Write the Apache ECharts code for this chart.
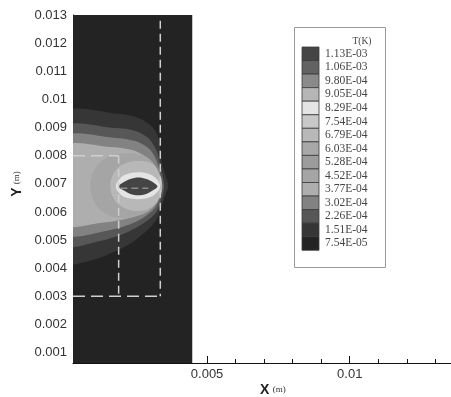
<!DOCTYPE html>
<html>
<head>
<meta charset="utf-8">
<script src="https://cdn.jsdelivr.net/npm/echarts@6/dist/echarts.min.js"></script>
<style>html,body{margin:0;padding:0;background:#fff}#c{width:451px;height:397px}</style>
</head>
<body>
<div id="c"></div>
<script>
// ---- axis ranges and tick labels ----
const xRange = [0.0003, 0.01355];
const yRange = [0.00063, 0.013];
const xTickLabels = [0.005, 0.01];
const yTickLabels = [0.001,0.002,0.003,0.004,0.005,0.006,0.007,0.008,0.009,0.01,0.011,0.012,0.013];
const xMinorStep = 0.001;
const yMinorStep = 0.0002;

// ---- contour levels (legend) ----
const levelLabels = ['1.13E-03','1.06E-03','9.80E-04','9.05E-04','8.29E-04','7.54E-04','6.79E-04','6.03E-04','5.28E-04','4.52E-04','3.77E-04','3.02E-04','2.26E-04','1.51E-04','7.54E-05'];
const levelColors = ['#454545','#626262','#8a8a8a','#b6b6b6','#e4e4e4','#c8c8c8','#b8b8b8','#a8a8a8','#9c9c9c','#a5a5a5','#aeaeae','#828282','#575757','#363636','#232323'];

// ---- contour regions (data coordinates, metres) ----
const domainRegion = [[0,0.0005],[0.00448,0.0005],[0.00448,0.013],[0,0.013]];
const band151 = [[0,0.00948],[0.00196,0.00948],[0.00259,0.00934],[0.00301,0.00909],[0.00326,0.00874],[0.00336,0.00827],[0.00343,0.00767],[0.00357,0.00721],[0.00364,0.00692],[0.00354,0.00660],[0.00340,0.00618],[0.00322,0.00571],[0.00284,0.00529],[0.00224,0.00483],[0.00143,0.00444],[0.00073,0.00422],[0,0.00419]];
const band226 = [[0,0.00898],[0.00179,0.00898],[0.00249,0.00888],[0.00294,0.00863],[0.00322,0.00820],[0.00336,0.00767],[0.00347,0.00714],[0.00350,0.00685],[0.00340,0.00643],[0.00322,0.00600],[0.00284,0.00564],[0.00214,0.00525],[0.00126,0.00497],[0,0.00486]];
const band302 = [[0,0.00863],[0.00179,0.00863],[0.00249,0.00852],[0.00294,0.00827],[0.00319,0.00792],[0.00333,0.00749],[0.00343,0.00692],[0.00333,0.00643],[0.00308,0.00604],[0.00249,0.00564],[0.00161,0.00536],[0,0.00525]];
const band377 = [[0,0.00831],[0.00161,0.00831],[0.00238,0.00820],[0.00287,0.00795],[0.00315,0.00760],[0.00336,0.00696],[0.00322,0.00636],[0.00287,0.00600],[0.00214,0.00575],[0.00126,0.00561],[0,0.00557]];
const band452 = [[0.00091,0.00692],[0.00105,0.00749],[0.00140,0.00788],[0.00196,0.00806],[0.00266,0.00803],[0.00308,0.00778],[0.00329,0.00731],[0.00336,0.00692],[0.00329,0.00653],[0.00308,0.00614],[0.00266,0.00589],[0.00196,0.00579],[0.00140,0.00596],[0.00105,0.00636]];
const band679 = [[0.00161,0.00692],[0.00175,0.00742],[0.00210,0.00771],[0.00259,0.00781],[0.00308,0.00771],[0.00333,0.00735],[0.00343,0.00692],[0.00333,0.00650],[0.00308,0.00618],[0.00259,0.00603],[0.00210,0.00614],[0.00175,0.00643]];
const band829 = [[0.00180,0.00691],[0.00193,0.00717],[0.00215,0.00733],[0.00258,0.00741],[0.00299,0.00734],[0.00323,0.00717],[0.00336,0.00691],[0.00323,0.00668],[0.00299,0.00652],[0.00258,0.00645],[0.00215,0.00651],[0.00193,0.00666]];
const band113 = [[0.00189,0.00690],[0.00210,0.00707],[0.00231,0.00717],[0.00259,0.00722],[0.00287,0.00717],[0.00308,0.00707],[0.00326,0.00690],[0.00308,0.00675],[0.00287,0.00664],[0.00259,0.00659],[0.00231,0.00664],[0.00210,0.00675]];

// ---- dashed outline lines ----
const dashOuterV = [[0.00336,0.0128],[0.00336,0.003]];
const dashInnerV = [[0.0019,0.008],[0.0019,0.003]];
const dashTopH = [[0.0003,0.008],[0.0019,0.008]];
const dashBottomH = [[0.0003,0.003],[0.00336,0.003]];
const dashCenter = [[0.00196,0.00684],[0.00294,0.00684]];

const regions = [
  {pts: domainRegion, level: 14, smooth: 0},
  {pts: band151, level: 13, smooth: 0.3},
  {pts: band226, level: 12, smooth: 0.3},
  {pts: band302, level: 11, smooth: 0.3},
  {pts: band377, level: 10, smooth: 0.3},
  {pts: band452, level: 9, smooth: 0.4},
  {pts: band679, level: 6, smooth: 0.4},
  {pts: band829, level: 4, smooth: 0.4},
  {pts: band113, level: 0, smooth: 0.3}
];

function steps(lo, hi, step) {
  const out = [];
  for (let k = Math.ceil(lo / step - 1e-9); k * step <= hi + 1e-12; k++) out.push(+(k * step).toFixed(6));
  return out;
}
const xMinorTicks = steps(xRange[0], xRange[1], xMinorStep);
const yMinorTicks = steps(yRange[0], yRange[1], yMinorStep);

const chart = echarts.init(document.getElementById('c'), null, {renderer: 'canvas'});
const fmt = v => String(Math.round(v * 1e6) / 1e6);

const series = regions.map(r => ({
  type: 'custom', coordinateSystem: 'cartesian2d', xAxisIndex: 0, yAxisIndex: 0,
  clip: true, silent: true, z: 1,
  data: [[0.001, 0.001]],
  renderItem: (params, api) => ({
    type: 'polygon',
    shape: {points: r.pts.map(p => api.coord(p)), smooth: r.smooth},
    style: {fill: levelColors[r.level], stroke: null}
  })
}));
[dashOuterV, dashInnerV, dashTopH, dashBottomH].forEach((d, i) => series.push({
  type: 'line', data: d, symbol: 'none', silent: true, z: 3, clip: true,
  lineStyle: {color: '#cfcfcf', width: 1.5, type: i < 2 ? [8, 5] : [12, 6]}
}));
series.push({type: 'line', data: dashCenter, symbol: 'none', silent: true, z: 3,
  lineStyle: {color: '#8c8c8c', width: 1.5, type: [7, 4]}});

// legend graphics
const lg = {x: 294.5, y: 27.5, w: 91, h: 240, swX: 302, swY: 47, swW: 17, swH: 13.55};
const graphics = [
  {type: 'rect', shape: {x: lg.x, y: lg.y, width: lg.w, height: lg.h}, style: {fill: '#fff', stroke: '#9a9a9a', lineWidth: 1}, z: 10},
  {type: 'text', x: 362, y: 41, style: {text: 'T(K)', font: '9.5px "Liberation Serif", serif', fill: '#444', textAlign: 'center', textVerticalAlign: 'middle'}, z: 11}
];
levelLabels.forEach((lab, i) => {
  graphics.push({type: 'rect', shape: {x: lg.swX, y: lg.swY + i * lg.swH, width: lg.swW, height: lg.swH},
    style: {fill: levelColors[i], stroke: '#3a3a3a', lineWidth: 0.8}, z: 11});
  graphics.push({type: 'text', x: 325, y: lg.swY + (i + 0.5) * lg.swH,
    style: {text: lab, font: '11.5px "Liberation Serif", serif', fill: '#444', textAlign: 'left', textVerticalAlign: 'middle'}, z: 11});
});
graphics.push({type: 'text', x: 260, y: 390, style: {text: '{b|X} {s|(m)}', rich: {
  b: {font: 'bold 14px "Liberation Sans", Arial, sans-serif', fill: '#222'},
  s: {font: '9px "Liberation Serif", serif', fill: '#333'}}, textVerticalAlign: 'middle', textAlign: 'left'}, z: 11});
graphics.push({type: 'text', x: 17, y: 184, rotation: Math.PI / 2, style: {text: '{b|Y} {s|(m)}', rich: {
  b: {font: 'bold 14px "Liberation Sans", Arial, sans-serif', fill: '#222'},
  s: {font: '9px "Liberation Serif", serif', fill: '#333'}}, textVerticalAlign: 'middle', textAlign: 'center'}, z: 11});

const labelFont = {color: '#333', fontSize: 13, fontFamily: '"Liberation Sans", Arial, sans-serif'};
chart.setOption({
  animation: false,
  backgroundColor: '#fff',
  grid: {left: 73, right: 0, top: 15, bottom: 34, containLabel: false},
  xAxis: [
    {type: 'value', min: xRange[0], max: xRange[1], position: 'bottom',
      axisLine: {show: true, lineStyle: {color: '#111', width: 1}},
      axisTick: {show: true, inside: true, length: 7, customValues: xTickLabels, lineStyle: {color: '#111'}},
      axisLabel: Object.assign({margin: 5, customValues: xTickLabels, formatter: fmt}, labelFont),
      splitLine: {show: false}},
    {type: 'value', min: xRange[0], max: xRange[1], position: 'bottom',
      axisLine: {show: false}, axisTick: {show: true, inside: true, length: 4, customValues: xMinorTicks, lineStyle: {color: '#111'}},
      axisLabel: {show: false}, splitLine: {show: false}}
  ],
  yAxis: [
    {type: 'value', min: yRange[0], max: yRange[1], position: 'left',
      axisLine: {show: true, lineStyle: {color: '#111', width: 1}},
      axisTick: {show: true, inside: true, length: 6, customValues: yTickLabels, lineStyle: {color: '#111'}},
      axisLabel: Object.assign({margin: 6, customValues: yTickLabels, formatter: fmt}, labelFont),
      splitLine: {show: false}},
    {type: 'value', min: yRange[0], max: yRange[1], position: 'left',
      axisLine: {show: false}, axisTick: {show: true, inside: true, length: 3, customValues: yMinorTicks, lineStyle: {color: '#111'}},
      axisLabel: {show: false}, splitLine: {show: false}}
  ],
  graphic: graphics,
  series: series
});
</script>
</body>
</html>
